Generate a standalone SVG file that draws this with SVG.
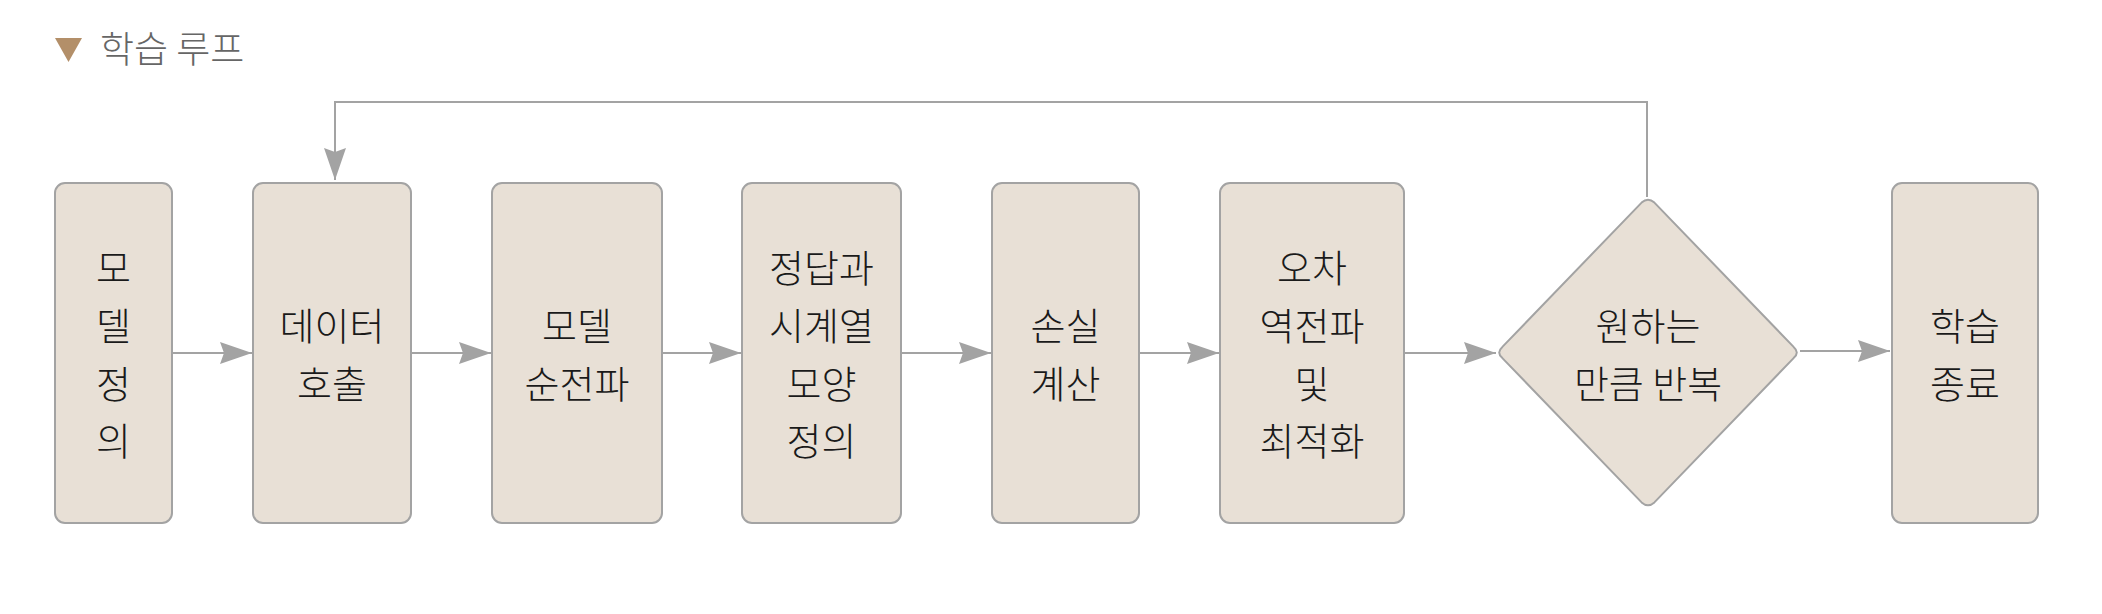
<svg xmlns="http://www.w3.org/2000/svg" width="2102" height="614" viewBox="0 0 2102 614">
  <style>
    .box { fill: #e8e0d6; stroke: #a3a3a3; stroke-width: 2; }
    .lbl { font-family: "Noto Sans CJK KR", "Noto Sans", sans-serif; font-size: 38px; font-weight: 300; fill: #1a1a1a; text-anchor: middle; }
    .title { font-family: "Noto Sans CJK KR", "Noto Sans", sans-serif; font-size: 37px; font-weight: 300; fill: #666666; }
    .conn { fill: none; stroke: #a3a3a3; stroke-width: 2; }
  </style>
  <defs>
    <marker id="arrow" viewBox="0 0 32 22" refX="32" refY="11" markerWidth="32" markerHeight="22" markerUnits="userSpaceOnUse" orient="auto">
      <path d="M0,0 L32,11 L0,22 L4,11 Z" fill="#a3a3a3"/>
    </marker>
  </defs>
  <rect width="2102" height="614" fill="#ffffff"/>

  <g id="title">
    <polygon points="55,38 82,38 68.5,62" fill="#b38f69"/>
    <text class="title" x="100" y="63">학습 루프</text>
  </g>

  <g id="connectors">
    <line class="conn" x1="172" y1="353" x2="252" y2="353" marker-end="url(#arrow)"/>
    <line class="conn" x1="411" y1="353" x2="491" y2="353" marker-end="url(#arrow)"/>
    <line class="conn" x1="662" y1="353" x2="741" y2="353" marker-end="url(#arrow)"/>
    <line class="conn" x1="901" y1="353" x2="991" y2="353" marker-end="url(#arrow)"/>
    <line class="conn" x1="1139" y1="353" x2="1219" y2="353" marker-end="url(#arrow)"/>
    <line class="conn" x1="1404" y1="353" x2="1496" y2="353" marker-end="url(#arrow)"/>
    <line class="conn" x1="1800" y1="351" x2="1890" y2="351" marker-end="url(#arrow)"/>
    <path class="conn" d="M1647,197 V102 H335 V180" marker-end="url(#arrow)"/>
  </g>

  <g id="node-model-def">
    <rect class="box" x="55" y="183" width="117" height="340" rx="10"/>
    <text class="lbl" x="113.5" y="282.4">모</text>
    <text class="lbl" x="113.5" y="340">델</text>
    <text class="lbl" x="113.5" y="397.6">정</text>
    <text class="lbl" x="113.5" y="455.2">의</text>
  </g>

  <g id="node-data-call">
    <rect class="box" x="253" y="183" width="158" height="340" rx="10"/>
    <text class="lbl" x="332" y="340">데이터</text>
    <text class="lbl" x="332" y="397.6">호출</text>
  </g>

  <g id="node-forward">
    <rect class="box" x="492" y="183" width="170" height="340" rx="10"/>
    <text class="lbl" x="577" y="340">모델</text>
    <text class="lbl" x="577" y="397.6">순전파</text>
  </g>

  <g id="node-shape-def">
    <rect class="box" x="742" y="183" width="159" height="340" rx="10"/>
    <text class="lbl" x="821.5" y="282.4">정답과</text>
    <text class="lbl" x="821.5" y="340">시계열</text>
    <text class="lbl" x="821.5" y="397.6">모양</text>
    <text class="lbl" x="821.5" y="455.2">정의</text>
  </g>

  <g id="node-loss">
    <rect class="box" x="992" y="183" width="147" height="340" rx="10"/>
    <text class="lbl" x="1065.5" y="340">손실</text>
    <text class="lbl" x="1065.5" y="397.6">계산</text>
  </g>

  <g id="node-backprop">
    <rect class="box" x="1220" y="183" width="184" height="340" rx="10"/>
    <text class="lbl" x="1312" y="282.4">오차</text>
    <text class="lbl" x="1312" y="340">역전파</text>
    <text class="lbl" x="1312" y="397.6">및</text>
    <text class="lbl" x="1312" y="455.2">최적화</text>
  </g>

  <g id="node-repeat">
    <path class="box" d="M1641.6,202.6 Q1648,197 1654.4,202.6 L1793.6,346.9 Q1800,352.5 1793.6,358.1 L1654.4,502.4 Q1648,508 1641.6,502.4 L1502.4,358.1 Q1496,352.5 1502.4,346.9 Z"/>
    <text class="lbl" x="1648" y="340">원하는</text>
    <text class="lbl" x="1648" y="397.6">만큼 반복</text>
  </g>

  <g id="node-end">
    <rect class="box" x="1892" y="183" width="146" height="340" rx="10"/>
    <text class="lbl" x="1965" y="340">학습</text>
    <text class="lbl" x="1965" y="397.6">종료</text>
  </g>
</svg>
